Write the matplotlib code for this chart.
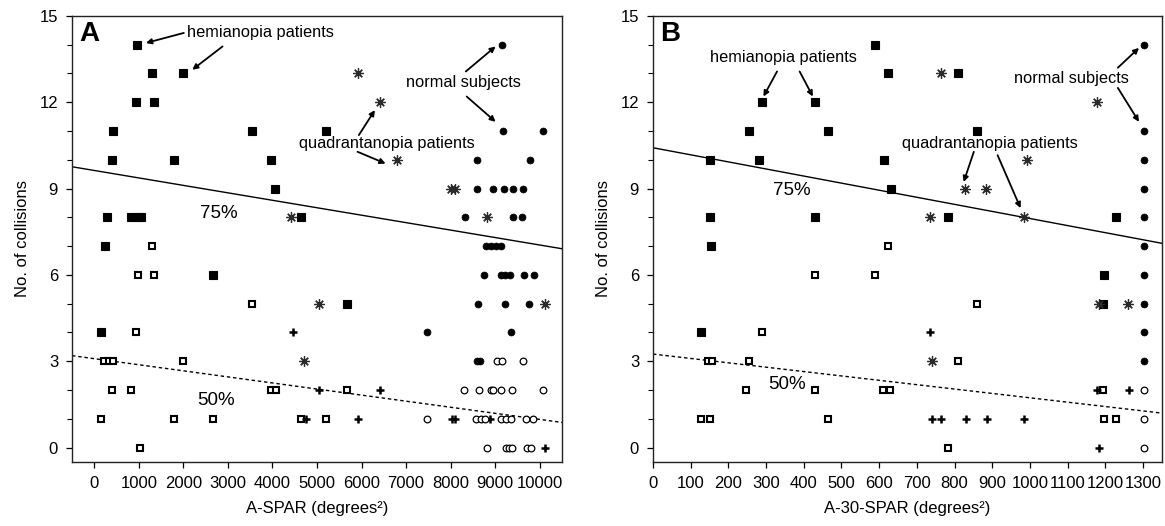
import matplotlib
matplotlib.use('Agg')
import matplotlib.pyplot as plt
from matplotlib.ticker import MultipleLocator

plt.rcParams['font.family'] = ['Liberation Sans', 'DejaVu Sans']

# ---- Panel A : A-SPAR ----
a_hemi_filled_x = [970, 1290, 1990, 930, 1350, 420, 3535, 5210, 393, 1800, 3977, 4060,
                   290, 830, 950, 1050, 4650, 243, 2660, 5675, 153]
a_hemi_filled_y = [14, 13, 13, 12, 12, 11, 11, 11, 10, 10, 10, 9,
                   8, 8, 8, 8, 8, 7, 6, 5, 4]
a_hemi_open_x = [1290, 983, 1350, 3535, 930, 220, 320, 420, 1994, 393, 835, 3970,
                 4080, 5675, 153, 1800, 2660, 4635, 5212, 1021]
a_hemi_open_y = [7, 6, 6, 5, 4, 3, 3, 3, 3, 2, 2, 2,
                 2, 2, 1, 1, 1, 1, 1, 0]
a_quad_star_x = [5920, 6410, 6800, 8010, 8090, 8826, 4410, 5046, 10119, 4700]
a_quad_star_y = [13, 12, 10, 9, 9, 8, 8, 5, 5, 3]
a_quad_plus_x = [4463, 5046, 6409, 4748, 5930, 8040, 8092, 8878, 10119]
a_quad_plus_y = [4, 2, 2, 1, 1, 1, 1, 1, 0]
a_norm_filled_x = [9147, 9180, 10070, 8601, 9782, 8590, 8945, 9200, 9400, 9630,
                   8316, 9410, 9611, 8800, 8910, 9020, 9120,
                   8743, 9120, 9230, 9340, 9648, 9872, 8624, 9230, 9760,
                   7464, 9349, 8600, 8650]
a_norm_filled_y = [14, 11, 11, 10, 10, 9, 9, 9, 9, 9,
                   8, 8, 8, 7, 7, 7, 7,
                   6, 6, 6, 6, 6, 6, 5, 5, 5,
                   4, 4, 3, 3]
a_norm_open_x = [9050, 9147, 9634,
                 8301, 8638, 8900, 8960, 9125, 9372, 10074,
                 7464, 8563, 8676, 8772, 9125, 9253, 9349, 9700, 9858,
                 8826, 9237, 9311, 9387, 9723, 9798]
a_norm_open_y = [3, 3, 3,
                 2, 2, 2, 2, 2, 2, 2,
                 1, 1, 1, 1, 1, 1, 1, 1, 1,
                 0, 0, 0, 0, 0, 0]
# regression lines (intercept, slope)
a_line75 = (9.63, -0.000259)
a_line50 = (3.09, -0.000211)

# ---- Panel B : A-30-SPAR ----
b_hemi_filled_x = [588, 624, 810, 290, 431, 255, 464, 860, 152, 282, 612, 631,
                   150, 431, 783, 1228, 154, 1197, 1194, 127]
b_hemi_filled_y = [14, 13, 13, 12, 12, 11, 11, 11, 10, 10, 10, 9,
                   8, 8, 8, 8, 7, 6, 5, 4]
b_hemi_open_x = [624, 431, 588, 860, 290, 809, 147, 156, 255, 247, 431, 610,
                 628, 1194, 127, 152, 463, 1195, 1228, 782]
b_hemi_open_y = [7, 6, 6, 5, 4, 3, 3, 3, 3, 2, 2, 2,
                 2, 2, 1, 1, 1, 1, 1, 0]
b_quad_star_x = [763, 1179, 991, 828, 884, 736, 983, 1184, 1261, 741]
b_quad_star_y = [13, 12, 10, 9, 9, 8, 8, 5, 5, 3]
b_quad_plus_x = [736, 1179, 1262, 741, 763, 829, 885, 984, 1184]
b_quad_plus_y = [4, 2, 2, 1, 1, 1, 1, 1, 0]
b_norm_filled_x = [1302] * 10
b_norm_filled_y = [14, 11, 10, 9, 8, 7, 6, 5, 4, 3]
b_norm_open_x = [1302] * 3
b_norm_open_y = [2, 1, 0]
b_line75 = (10.42, -0.00246)
b_line50 = (3.25, -0.00152)

STYLES = {
    'hemi_filled': dict(marker='s', ms=5.3, mfc='black', mec='black', mew=0.8),
    'hemi_open': dict(marker='s', ms=4.6, mfc='white', mec='black', mew=1.5),
    'quad_star': dict(marker=(8, 2, 0), ms=7.5, mfc='none', mec='#2a2a2a', mew=0.9),
    'quad_plus': dict(marker='+', ms=6, mec='black', mew=1.8),
    'norm_filled': dict(marker='o', ms=5, mfc='black', mec='black', mew=0.5),
    'norm_open': dict(marker='o', ms=4.8, mfc='white', mec='black', mew=0.9),
}

ARROW = dict(arrowstyle='-|>', color='black', lw=1.3, mutation_scale=8,
             shrinkA=0, shrinkB=0)


def draw_panel(ax, groups, line75, line50, xlim, xstep, letter, xlabel):
    ax.axline((0, line75[0]), slope=line75[1], color='black', lw=1.0, zorder=1)
    ax.axline((0, line50[0]), slope=line50[1], color='black', lw=1.0,
              linestyle=(0, (2.5, 2)), zorder=1)
    for name, (xs, ys) in groups.items():
        ax.plot(xs, ys, linestyle='none', zorder=3, **STYLES[name])
    ax.set_xlim(*xlim)
    ax.set_ylim(-0.5, 15)
    ax.xaxis.set_major_locator(MultipleLocator(xstep))
    ax.yaxis.set_major_locator(MultipleLocator(3))
    ax.yaxis.set_minor_locator(MultipleLocator(1))
    ax.tick_params(axis='both', which='major', direction='out', length=4,
                   width=0.9, labelsize=12, pad=6)
    ax.tick_params(axis='y', which='minor', direction='out', length=3.5, width=0.8)
    ax.tick_params(axis='y', which='major', pad=6)
    for sp in ax.spines.values():
        sp.set_linewidth(1.0)
        sp.set_color('#222222')
    ax.set_xlabel(xlabel, fontsize=12, labelpad=7)
    ax.set_ylabel('No. of collisions', fontsize=12, labelpad=7)
    ax.text(0.014, 0.988, letter, transform=ax.transAxes, ha='left', va='top',
            fontsize=20, fontweight='bold')


fig = plt.figure(figsize=(11.65, 5.26), dpi=100)
axA = fig.add_axes([0.0618, 0.1217, 0.4206, 0.848])
axB = fig.add_axes([0.5605, 0.1217, 0.4369, 0.848])

draw_panel(axA,
           {'hemi_open': (a_hemi_open_x, a_hemi_open_y),
            'hemi_filled': (a_hemi_filled_x, a_hemi_filled_y),
            'quad_star': (a_quad_star_x, a_quad_star_y),
            'quad_plus': (a_quad_plus_x, a_quad_plus_y),
            'norm_open': (a_norm_open_x, a_norm_open_y),
            'norm_filled': (a_norm_filled_x, a_norm_filled_y)},
           a_line75, a_line50, (-500, 10500), 1000, 'A', 'A-SPAR (degrees²)')

draw_panel(axB,
           {'hemi_open': (b_hemi_open_x, b_hemi_open_y),
            'hemi_filled': (b_hemi_filled_x, b_hemi_filled_y),
            'quad_star': (b_quad_star_x, b_quad_star_y),
            'quad_plus': (b_quad_plus_x, b_quad_plus_y),
            'norm_open': (b_norm_open_x, b_norm_open_y),
            'norm_filled': (b_norm_filled_x, b_norm_filled_y)},
           b_line75, b_line50, (0, 1350), 100, 'B', 'A-30-SPAR (degrees²)')

fs = 11.8
# annotations panel A
axA.text(2090, 14.41, 'hemianopia patients', fontsize=fs, va='center')
axA.annotate('', xy=(1160, 14.06), xytext=(2010, 14.41), arrowprops=ARROW)
axA.annotate('', xy=(2200, 13.13), xytext=(2880, 13.94), arrowprops=ARROW)
axA.text(6990, 12.67, 'normal subjects', fontsize=fs, va='center')
axA.annotate('', xy=(9010, 13.94), xytext=(8340, 13.07), arrowprops=ARROW)
axA.annotate('', xy=(9010, 11.32), xytext=(8360, 12.2), arrowprops=ARROW)
axA.text(4590, 10.57, 'quadrantanopia patients', fontsize=fs, va='center')
axA.annotate('', xy=(6300, 11.73), xytext=(5940, 10.86), arrowprops=ARROW)
axA.annotate('', xy=(6540, 9.87), xytext=(5910, 10.28), arrowprops=ARROW)
axA.text(2795, 8.14, '75%', fontsize=13.5, ha='center', va='center')
axA.text(2727, 1.65, '50%', fontsize=13.5, ha='center', va='center')

# annotations panel B
axB.text(151, 13.54, 'hemianopia patients', fontsize=fs, va='center')
axB.annotate('', xy=(293, 12.2), xytext=(329, 13.07), arrowprops=ARROW)
axB.annotate('', xy=(424, 12.2), xytext=(389, 13.07), arrowprops=ARROW)
axB.text(957, 12.81, 'normal subjects', fontsize=fs, va='center')
axB.annotate('', xy=(1289, 13.89), xytext=(1233, 13.2), arrowprops=ARROW)
axB.annotate('', xy=(1289, 11.32), xytext=(1233, 12.5), arrowprops=ARROW)
axB.text(661, 10.55, 'quadrantanopia patients', fontsize=fs, va='center')
axB.annotate('', xy=(824, 9.23), xytext=(851, 10.28), arrowprops=ARROW)
axB.annotate('', xy=(975, 8.32), xytext=(914, 10.16), arrowprops=ARROW)
axB.text(367, 8.94, '75%', fontsize=13.5, ha='center', va='center')
axB.text(356, 2.18, '50%', fontsize=13.5, ha='center', va='center')

fig.savefig('out.png', dpi=100)
